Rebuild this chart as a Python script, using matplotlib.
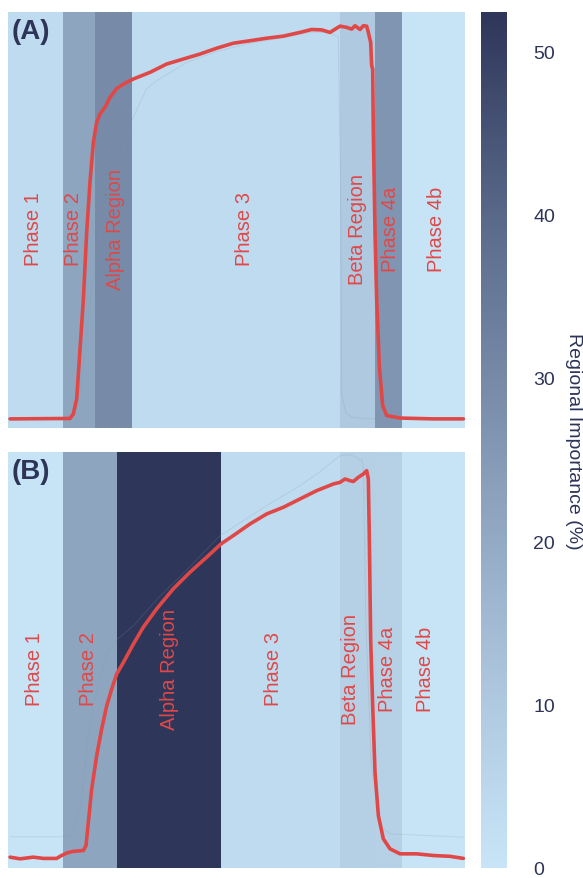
import matplotlib
matplotlib.use("Agg")
import matplotlib.pyplot as plt
from matplotlib.colors import LinearSegmentedColormap, Normalize
from matplotlib.cm import ScalarMappable

plt.rcParams['font.family'] = ['Liberation Sans', 'DejaVu Sans']

# phase segmentation (x in % of cycle) and regional importance (%) per segment
phase_names = ['Phase 1', 'Phase 2', 'Alpha Region', 'Phase 3', 'Beta Region', 'Phase 4a', 'Phase 4b']

edges_a = [0, 12.1, 19.1, 27.2, 72.7, 80.3, 86.2, 100]
importance_a = [3.5, 21.5, 29.5, 3.5, 10.0, 26.5, 0.5]
label_x_a = [5.6, 14.4, 23.6, 51.8, 76.4, 83.8, 93.7]

edges_b = [0, 12.1, 23.9, 46.7, 72.7, 80.6, 86.2, 100]
importance_b = [0.5, 21.5, 52.4, 3.5, 7.5, 7.0, 0.5]
label_x_b = [5.9, 17.8, 35.5, 58.1, 75.0, 83.0, 91.3]

# mean signal, sample A
x_a = [0.55, 13.66, 14.39, 15.12, 15.85, 16.58, 17.30, 18.03, 18.76, 19.49, 20.22,
       21.31, 22.40, 23.86, 25.68, 27.50, 31.15, 34.79, 38.43, 42.08, 45.72, 49.36,
       53.01, 56.65, 60.29, 63.93, 66.48, 68.67, 70.49, 72.68, 74.14, 75.23, 75.96,
       77.05, 77.78, 78.51, 78.87, 79.38, 79.60, 79.82, 79.96, 80.33, 80.69, 81.27,
       82.00, 82.88, 85.79, 93.07, 99.64]
y_a = [0.022, 0.023, 0.034, 0.070, 0.190, 0.310, 0.470, 0.591, 0.687, 0.735, 0.755,
       0.771, 0.795, 0.816, 0.829, 0.839, 0.855, 0.875, 0.887, 0.899, 0.913, 0.925,
       0.931, 0.937, 0.942, 0.951, 0.958, 0.957, 0.951, 0.966, 0.963, 0.959, 0.967,
       0.958, 0.967, 0.966, 0.951, 0.927, 0.871, 0.863, 0.711, 0.470, 0.310, 0.150,
       0.054, 0.030, 0.024, 0.022, 0.022]

# reference trace, sample A
x_a_ref = [0.55, 14.0, 16.0, 18.0, 20.0, 22.0, 24.0, 26.0, 27.3, 30.4, 32.6, 39.2,
           45.7, 53.0, 60.3, 66.5, 70.5, 72.3, 72.8, 73.05, 74.0, 75.6, 80.0, 99.64]
y_a_ref = [0.022, 0.022, 0.10, 0.30, 0.45, 0.55, 0.63, 0.69, 0.743, 0.815, 0.835, 0.879,
           0.905, 0.925, 0.938, 0.952, 0.950, 0.940, 0.60, 0.08, 0.035, 0.025, 0.022, 0.022]

# mean signal, sample B
x_b = [0.55, 2.73, 5.65, 7.83, 10.75, 11.48, 12.93, 14.39, 16.58, 17.16, 17.67, 18.40,
       19.49, 20.58, 21.68, 22.77, 23.86, 25.32, 27.50, 29.69, 32.61, 36.24, 39.89,
       43.53, 46.67, 49.36, 53.01, 56.65, 60.29, 63.93, 67.58, 71.22, 72.68, 73.77,
       74.86, 75.59, 76.68, 77.78, 78.51, 78.87, 79.09, 79.38, 79.82, 80.33, 81.06,
       82.15, 83.61, 85.79, 89.43, 93.07, 96.72, 99.64]
y_b = [0.026, 0.022, 0.026, 0.023, 0.023, 0.028, 0.036, 0.040, 0.042, 0.054, 0.110,
       0.190, 0.270, 0.334, 0.390, 0.430, 0.466, 0.494, 0.538, 0.579, 0.623, 0.671,
       0.711, 0.747, 0.779, 0.799, 0.827, 0.851, 0.867, 0.887, 0.907, 0.923, 0.927,
       0.935, 0.931, 0.929, 0.939, 0.947, 0.955, 0.935, 0.791, 0.550, 0.390, 0.230,
       0.126, 0.070, 0.046, 0.034, 0.034, 0.030, 0.028, 0.023]

# reference trace, sample B
x_b_ref = [0.55, 11.5, 14.0, 16.0, 18.0, 20.0, 22.0, 24.0, 27.5, 32.6, 39.9, 46.5,
           56.65, 63.93, 68.0, 72.68, 74.86, 77.4, 77.78, 78.3, 79.5, 81.5, 83.61, 99.64]
y_b_ref = [0.075, 0.075, 0.08, 0.15, 0.35, 0.45, 0.52, 0.55, 0.582, 0.645, 0.725, 0.799,
           0.871, 0.919, 0.950, 0.991, 0.994, 0.980, 0.967, 0.60, 0.25, 0.10, 0.082, 0.074]

vmax = 52.4
cmap = LinearSegmentedColormap.from_list(
    'importance', ['#c8e5f7', '#a7c0d8', '#8196b2', '#5b6b8c', '#2e365a'])
norm = Normalize(vmin=0, vmax=vmax)

line_color = '#e04848'
navy = '#2d3457'

fig = plt.figure(figsize=(5.83, 8.79), dpi=100)
ax_a = fig.add_axes([0.0129, 0.5119, 0.7847, 0.4733])
ax_b = fig.add_axes([0.0129, 0.0114, 0.7847, 0.4733])
cax = fig.add_axes([0.825, 0.0114, 0.0446, 0.9738])

panels = [
    (ax_a, '(A)', edges_a, importance_a, label_x_a, x_a, y_a, x_a_ref, y_a_ref),
    (ax_b, '(B)', edges_b, importance_b, label_x_b, x_b, y_b, x_b_ref, y_b_ref),
]

for ax, tag, edges, imp, lx, xs, ys, xr, yr in panels:
    for i, name in enumerate(phase_names):
        ax.axvspan(edges[i], edges[i + 1], color=cmap(norm(imp[i])), lw=0, zorder=0)
        ax.text(lx[i], 0.48, name, rotation=90, ha='center', va='center',
                fontsize=14.5, color=line_color, zorder=4)
    ax.plot(xr, yr, color='#7f99ad', lw=0.7, alpha=0.22, zorder=2)
    ax.plot(xs, ys, color=line_color, lw=2.6, zorder=3, solid_capstyle='round')
    ax.text(0.01, 0.985, tag, transform=ax.transAxes, ha='left', va='top',
            fontsize=20, fontweight='bold', color=navy, zorder=5)
    ax.set_xlim(0, 100)
    ax.set_ylim(0, 1)
    ax.axis('off')

sm = ScalarMappable(norm=norm, cmap=cmap)
cb = fig.colorbar(sm, cax=cax)
cb.outline.set_visible(False)
cb.set_ticks([0, 10, 20, 30, 40, 50])
cb.ax.tick_params(length=0, pad=19, labelsize=14, labelcolor=navy)
cb.set_label('Regional Importance (%)', rotation=270, fontsize=14, color=navy,
             ha='center', va='center')
cb.ax.yaxis.set_label_coords(3.54, 0.5)

fig.savefig('out.png', dpi=100)
